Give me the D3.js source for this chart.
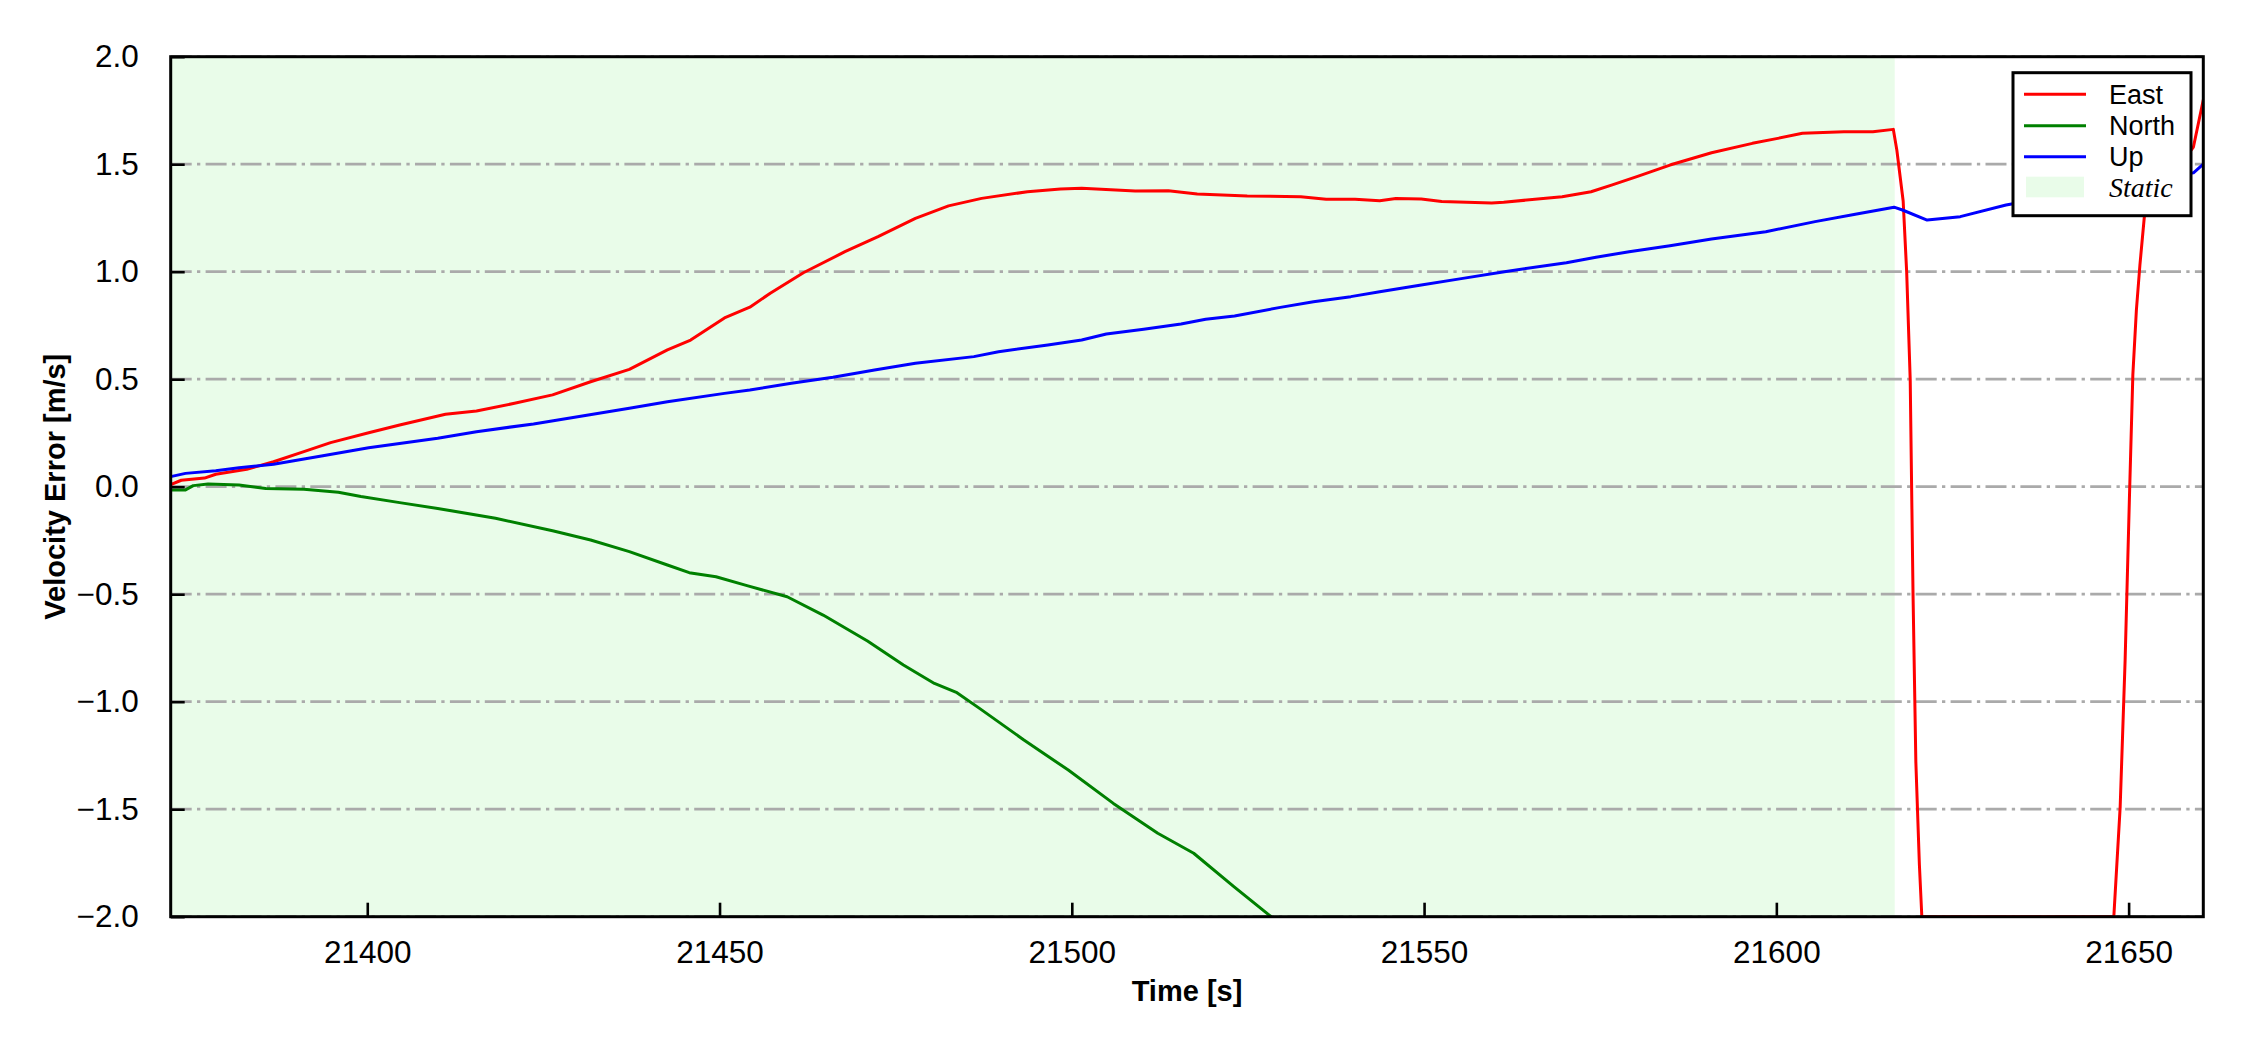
<!DOCTYPE html>
<html>
<head>
<meta charset="utf-8">
<script src="https://cdn.jsdelivr.net/npm/d3@7"></script>
<style>
  body { margin: 0; background: #fff; }
  svg { display: block; font-family: "Liberation Sans", Arial, sans-serif; }
</style>
</head>
<body>
<script>
// x range and static period [s]
var timeRange = [21372.1, 21660.6];
var staticRange = [21372.1, 21616.8];
var velRange = [-2.0, 2.0];
var yTicks = [-2.0, -1.5, -1.0, -0.5, 0.0, 0.5, 1.0, 1.5, 2.0];
var xTicks = [21400, 21450, 21500, 21550, 21600, 21650];

// [time, velocity error]
var east = [
    [21372.1, 0.01], [21373.6, 0.03], [21376.9, 0.04], [21378.5, 0.058], [21382.9, 0.081],
    [21386.7, 0.116], [21391.0, 0.163], [21394.8, 0.205], [21400.2, 0.251], [21404.6, 0.287],
    [21411.1, 0.337], [21415.5, 0.352], [21420.9, 0.388], [21426.3, 0.427], [21431.7, 0.488],
    [21437.2, 0.546], [21442.6, 0.636], [21445.9, 0.682], [21450.7, 0.785], [21454.3, 0.835],
    [21457.2, 0.9], [21461.9, 0.995], [21467.8, 1.093], [21472.5, 1.163], [21477.8, 1.248],
    [21482.5, 1.306], [21487.2, 1.341], [21493.7, 1.372], [21498.4, 1.385], [21501.4, 1.388],
    [21509.0, 1.375], [21513.7, 1.377], [21517.8, 1.361], [21524.9, 1.352], [21532.5, 1.349],
    [21536.1, 1.337], [21540.2, 1.337], [21543.7, 1.330], [21546.0, 1.340], [21549.6, 1.338],
    [21552.5, 1.326], [21559.6, 1.320], [21561.3, 1.323], [21569.6, 1.349], [21573.7, 1.372],
    [21576.6, 1.403], [21580.2, 1.442], [21584.9, 1.496], [21590.8, 1.553], [21596.6, 1.597],
    [21600.2, 1.620], [21603.7, 1.644], [21609.6, 1.651], [21613.7, 1.651], [21616.6, 1.662],
    [21617.1, 1.566], [21618.0, 1.329], [21618.5, 0.997], [21619.0, 0.498], [21619.4, -0.499],
    [21619.8, -1.28], [21620.3, -1.756], [21620.65, -2.0],
    [21647.9, -2.0], [21648.8, -1.49], [21649.5, -0.81], [21650.1, -0.07], [21650.6, 0.52],
    [21651.1, 0.82], [21651.6, 1.03], [21652.3, 1.28], [21659.2, 1.58], [21660.6, 1.80]
];

var north = [
    [21372.1, -0.015], [21374.2, -0.015], [21375.3, 0.005], [21377.4, 0.0125], [21381.8, 0.008],
    [21385.6, -0.008], [21391.0, -0.012], [21395.9, -0.026], [21399.1, -0.046], [21404.6, -0.074],
    [21410.0, -0.101], [21418.2, -0.147], [21426.3, -0.205], [21431.7, -0.248], [21437.2, -0.302],
    [21442.6, -0.364], [21445.7, -0.400], [21449.5, -0.419], [21453.9, -0.460], [21459.6, -0.512],
    [21464.7, -0.597], [21471.0, -0.718], [21476.1, -0.829], [21480.5, -0.915], [21483.7, -0.958],
    [21486.9, -1.031], [21493.2, -1.178], [21499.5, -1.318], [21505.9, -1.473], [21512.2, -1.612],
    [21517.3, -1.705], [21523.0, -1.860], [21528.3, -2.0]
];

var up = [
    [21372.1, 0.047], [21374.2, 0.062], [21378.5, 0.074], [21381.8, 0.088], [21386.7, 0.104],
    [21393.7, 0.144], [21400.2, 0.181], [21410.0, 0.225], [21415.5, 0.256], [21423.6, 0.292],
    [21429.0, 0.321], [21437.2, 0.365], [21442.6, 0.395], [21450.7, 0.434], [21454.3, 0.450],
    [21460.2, 0.481], [21466.1, 0.509], [21472.0, 0.543], [21477.8, 0.574], [21486.1, 0.605],
    [21489.6, 0.628], [21496.6, 0.659], [21501.4, 0.682], [21504.9, 0.710], [21510.2, 0.732],
    [21515.5, 0.757], [21519.0, 0.779], [21523.1, 0.794], [21529.6, 0.834], [21534.3, 0.860],
    [21539.6, 0.884], [21543.7, 0.907], [21549.6, 0.938], [21555.5, 0.969], [21561.4, 1.0],
    [21570.2, 1.042], [21574.4, 1.067], [21579.1, 1.093], [21584.9, 1.121], [21590.8, 1.152],
    [21598.5, 1.186], [21605.5, 1.233], [21611.4, 1.268], [21616.7, 1.300], [21617.9, 1.287],
    [21621.4, 1.240], [21626.1, 1.256], [21632.6, 1.310], [21646.0, 1.39], [21659.2, 1.46],
    [21660.6, 1.50]
];

var seriesNames = ["East", "North", "Up"];
var seriesColors = ["#ff0000", "#008000", "#0000ff"];
var seriesData = [east, north, up];

var width = 2250, height = 1050;
var margin = {left: 170.7, right: 2203.3, top: 56.7, bottom: 916.7};

var svg = d3.select("body").append("svg").attr("width", width).attr("height", height);

var x = d3.scaleLinear().domain(timeRange).range([margin.left, margin.right]);
var y = d3.scaleLinear().domain(velRange).range([margin.bottom, margin.top]);

svg.append("defs").append("clipPath").attr("id", "plotclip")
    .append("rect")
    .attr("x", margin.left).attr("y", margin.top)
    .attr("width", margin.right - margin.left).attr("height", margin.bottom - margin.top);

// static shading
svg.append("rect")
    .attr("x", x(staticRange[0]))
    .attr("y", margin.top)
    .attr("width", x(staticRange[1]) - x(staticRange[0]))
    .attr("height", margin.bottom - margin.top)
    .attr("fill", "lightgreen")
    .attr("fill-opacity", 0.2);

// horizontal grid, dash-dot
svg.append("g")
    .selectAll("line")
    .data(yTicks)
    .enter().append("line")
    .attr("x1", margin.left).attr("x2", margin.right)
    .attr("y1", (d) => y(d)).attr("y2", (d) => y(d))
    .attr("stroke", "#aaaaaa")
    .attr("stroke-width", 2.8)
    .attr("stroke-dasharray", "21,5.3,3.3,5.3");

// series
var line = d3.line().x((d) => x(d[0])).y((d) => y(d[1]));
svg.append("g").attr("clip-path", "url(#plotclip)")
    .selectAll("path")
    .data(seriesData)
    .enter().append("path")
    .attr("d", line)
    .attr("fill", "none")
    .attr("stroke", (d, i) => seriesColors[i])
    .attr("stroke-width", 3)
    .attr("stroke-linejoin", "round");

// axes with inward ticks
var xAxis = d3.axisBottom(x).tickValues(xTicks).tickSize(-14).tickPadding(24)
    .tickFormat(d3.format("d"));
var yAxis = d3.axisLeft(y).tickValues(yTicks).tickSize(-14).tickPadding(32)
    .tickFormat((d) => d3.format(".1f")(d).replace("-", "\u2212"));

var gx = svg.append("g").attr("transform", "translate(0," + margin.bottom + ")").call(xAxis);
var gy = svg.append("g").attr("transform", "translate(" + margin.left + ",0)").call(yAxis);
[gx, gy].forEach(function (g) {
    g.select(".domain").remove();
    g.selectAll(".tick line").attr("stroke", "#000").attr("stroke-width", 2.6);
    g.selectAll(".tick text").attr("fill", "#000")
        .style("font-family", "'Liberation Sans', Arial, sans-serif")
        .style("font-size", "31.5px");
});
gx.selectAll(".tick text").attr("dy", "0.71em");

// frame
svg.append("rect")
    .attr("x", margin.left).attr("y", margin.top)
    .attr("width", margin.right - margin.left).attr("height", margin.bottom - margin.top)
    .attr("fill", "none").attr("stroke", "#000").attr("stroke-width", 3);

// axis labels
svg.append("text")
    .attr("x", (margin.left + margin.right) / 2).attr("y", 1000.7)
    .attr("text-anchor", "middle")
    .style("font-weight", "bold").style("font-size", "29px")
    .text("Time [s]");
svg.append("text")
    .attr("transform", "translate(65," + (margin.top + margin.bottom) / 2 + ") rotate(-90)")
    .attr("text-anchor", "middle")
    .style("font-weight", "bold").style("font-size", "29px")
    .text("Velocity Error [m/s]");

// legend
var legend = svg.append("g");
legend.append("rect")
    .attr("x", 2013).attr("y", 72.7).attr("width", 178).attr("height", 143)
    .attr("fill", "#fff").attr("stroke", "#000").attr("stroke-width", 3);
var rowY = [94.3, 125.7, 156.7, 187.3];
seriesNames.forEach(function (name, i) {
    legend.append("line")
        .attr("x1", 2024).attr("x2", 2086)
        .attr("y1", rowY[i]).attr("y2", rowY[i])
        .attr("stroke", seriesColors[i]).attr("stroke-width", 3);
    legend.append("text")
        .attr("x", 2109).attr("y", rowY[i]).attr("dy", "0.36em")
        .style("font-size", "27px")
        .text(name);
});
legend.append("rect")
    .attr("x", 2026).attr("y", 176.7).attr("width", 58).attr("height", 20.6)
    .attr("fill", "lightgreen").attr("fill-opacity", 0.2);
legend.append("text")
    .attr("x", 2109).attr("y", rowY[3]).attr("dy", "0.33em")
    .style("font-family", "'Liberation Serif', 'Times New Roman', serif")
    .style("font-style", "italic").style("font-size", "28px")
    .text("Static");
</script>
</body>
</html>
